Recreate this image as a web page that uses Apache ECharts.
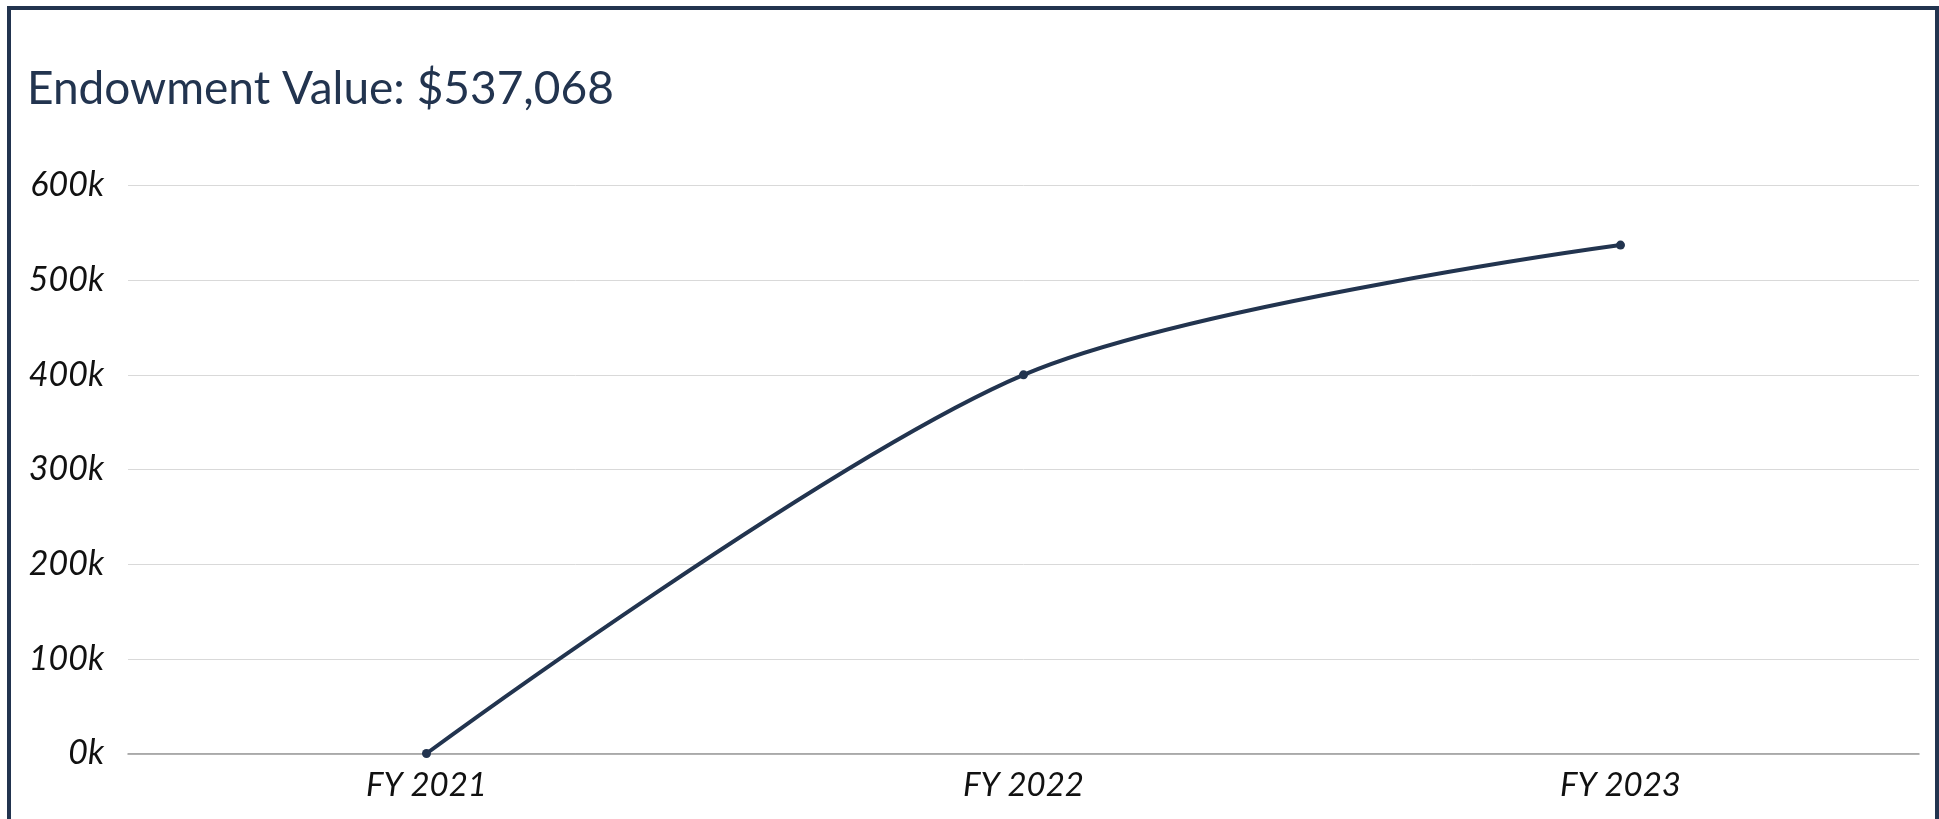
<!DOCTYPE html>
<html>
<head>
<meta charset="utf-8">
<script src="https://cdn.jsdelivr.net/npm/echarts@6/dist/echarts.min.js"></script>
<style>
  html, body { margin: 0; padding: 0; width: 1939px; height: 819px; overflow: hidden; background: #fff; }
  #frame { position: absolute; left: 7px; top: 6px; width: 1932px; height: 840px; box-sizing: border-box; border: 4px solid #22344f; }
  #chart { position: absolute; left: 0; top: 0; width: 1939px; height: 819px; }
</style>
</head>
<body>
<div id="frame"></div>
<div id="chart"></div>
<script>
const titleText = 'Endowment Value: $537,068';
const categories = ['FY 2021', 'FY 2022', 'FY 2023'];
const endowmentValues = [0, 400000, 537068];
const yTicks = [0, 100000, 200000, 300000, 400000, 500000, 600000];

const chart = echarts.init(document.getElementById('chart'), null, { renderer: 'canvas' });
chart.setOption({
  animation: false,
  backgroundColor: 'transparent',
  title: {
    text: titleText,
    left: 22,
    top: 61,
    textStyle: { fontFamily: 'Lato', fontWeight: 'normal', fontSize: 46, color: '#22344f' }
  },
  grid: { left: 128, right: 20, top: 185.5, bottom: 65.5, containLabel: false },
  xAxis: {
    type: 'category',
    data: categories,
    boundaryGap: true,
    axisLine: { show: true, lineStyle: { color: '#999999', width: 1.5 } },
    axisTick: { show: false },
    axisLabel: { margin: 15, fontFamily: 'Lato', fontStyle: 'italic', fontSize: 33, color: '#111111' }
  },
  yAxis: {
    type: 'value',
    min: yTicks[0],
    max: yTicks[yTicks.length - 1],
    interval: yTicks[1] - yTicks[0],
    axisLine: { show: false },
    axisTick: { show: false },
    splitLine: { lineStyle: { color: '#d9d9d9', width: 1 } },
    axisLabel: {
      margin: 24,
      fontFamily: 'Lato', fontStyle: 'italic', fontSize: 34, color: '#111111',
      formatter: v => (v / 1000) + 'k'
    }
  },
  series: [{
    type: 'line',
    data: endowmentValues,
    smooth: 0.3,
    symbol: 'circle',
    symbolSize: 9,
    lineStyle: { color: '#22344f', width: 4 },
    itemStyle: { color: '#22344f' }
  }]
});
</script>
</body>
</html>
